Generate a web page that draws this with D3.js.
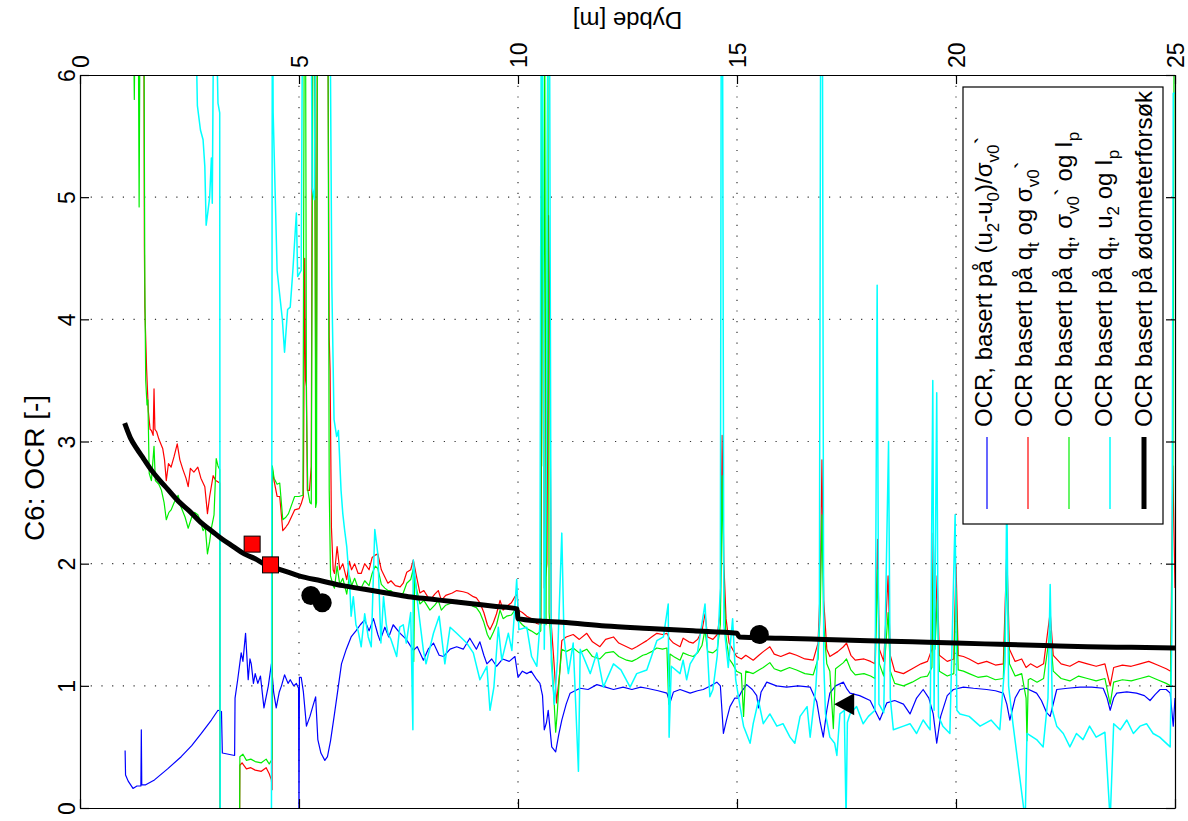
<!DOCTYPE html>
<html>
<head>
<meta charset="utf-8">
<script src="https://cdn.jsdelivr.net/npm/d3@7"></script>
<style>
  body { margin: 0; background: #fff; }
  svg { display: block; }
  text { font-family: "Liberation Sans", Arial, Helvetica, sans-serif; fill: #000; }
</style>
</head>
<body>
<svg id="chart" width="1188" height="821"></svg>
<script>
// ---------------- DATA (depth [m], OCR [-]) ----------------
const depthTicks = [0, 5, 10, 15, 20, 25];
const ocrTicks = [0, 1, 2, 3, 4, 5, 6];
const depthGrid = [5, 10, 15, 20];
const ocrGrid = [1, 2, 3, 4, 5];

// OCR, basert på (u2-u0)/σv0'
const seriesU2 = [[1.03,0.47],[1.04,0.27],[1.1,0.22],[1.21,0.16],[1.3,0.18],[1.39,0.18],[1.40,0.64],[1.41,0.19],[1.5,0.19],[1.7,0.23],[2.0,0.32],[2.31,0.42],[2.55,0.51],[2.77,0.61],[3.0,0.72],[3.15,0.80],[3.23,0.79],[3.25,0.45],[3.53,0.43],[3.54,0.90],[3.6,1.05],[3.68,1.27],[3.72,1.20],[3.78,1.43],[3.84,1.05],[3.88,1.22],[3.91,1.18],[3.96,1.02],[4.0,1.10],[4.06,1.02],[4.12,1.08],[4.2,0.82],[4.3,1.00],[4.37,1.18],[4.42,0.95],[4.48,0.82],[4.55,0.95],[4.6,1.00],[4.67,1.09],[4.75,1.02],[4.8,1.05],[4.88,1.00],[4.94,1.02],[4.99,0.98],[5.0,-0.2],[5.01,1.07],[5.05,1.07],[5.1,0.95],[5.17,0.67],[5.25,0.75],[5.33,0.85],[5.38,0.91],[5.43,0.56],[5.5,0.45],[5.59,0.39],[5.65,0.42],[5.72,0.55],[5.81,0.77],[5.9,1.0],[5.97,1.18],[6.08,1.30],[6.19,1.40],[6.3,1.45],[6.4,1.50],[6.5,1.54],[6.6,1.45],[6.7,1.55],[6.8,1.42],[6.85,1.37],[6.96,1.48],[7.05,1.40],[7.15,1.50],[7.31,1.43],[7.45,1.38],[7.61,1.29],[7.7,1.32],[7.84,1.21],[7.95,1.30],[8.07,1.35],[8.2,1.25],[8.3,1.24],[8.45,1.30],[8.6,1.32],[8.75,1.30],[8.9,1.39],[9.05,1.30],[9.13,1.36],[9.22,1.25],[9.29,1.18],[9.4,1.22],[9.51,1.16],[9.65,1.22],[9.8,1.20],[9.93,1.24],[10.0,1.07],[10.1,1.12],[10.2,1.10],[10.3,1.12],[10.43,1.05],[10.5,1.02],[10.56,0.92],[10.6,0.64],[10.65,0.70],[10.69,0.80],[10.77,0.50],[10.86,0.46],[10.93,0.60],[11.0,0.72],[11.1,0.85],[11.19,0.94],[11.3,0.96],[11.42,0.98],[11.6,0.97],[11.8,1.01],[12.0,0.99],[12.18,0.97],[12.4,0.99],[12.6,0.97],[12.8,0.99],[12.94,0.98],[13.2,0.96],[13.4,0.94],[13.47,0.86],[13.55,0.95],[13.7,0.97],[13.93,0.94],[14.1,0.96],[14.23,0.97],[14.4,1.00],[14.54,1.03],[14.62,1.00],[14.69,0.61],[14.76,0.72],[14.84,0.83],[14.95,0.90],[15.03,0.90],[15.1,0.95],[15.22,1.01],[15.35,0.97],[15.45,0.92],[15.49,0.82],[15.55,0.95],[15.68,1.03],[15.9,1.00],[16.13,0.99],[16.4,1.00],[16.67,0.99],[16.82,0.87],[16.9,0.70],[16.97,0.58],[17.05,0.80],[17.12,0.94],[17.25,1.00],[17.43,1.03],[17.5,0.98],[17.58,0.94],[17.8,0.92],[18.04,0.88],[18.15,0.80],[18.26,0.72],[18.35,0.80],[18.42,0.86],[18.6,0.88],[18.8,0.85],[18.95,0.77],[19.1,0.90],[19.25,0.97],[19.38,0.90],[19.48,0.77],[19.56,0.53],[19.65,0.75],[19.8,0.92],[19.94,0.97],[20.17,0.99],[20.4,0.98],[20.7,0.97],[20.9,0.96],[21.08,0.94],[21.16,0.85],[21.23,0.72],[21.35,0.90],[21.46,0.97],[21.6,0.98],[21.84,0.94],[21.95,0.88],[22.07,0.78],[22.15,0.75],[22.3,0.97],[22.55,0.98],[22.83,0.99],[23.1,0.99],[23.36,0.98],[23.45,0.90],[23.52,0.80],[23.6,0.90],[23.67,0.94],[23.9,0.95],[24.12,0.94],[24.3,0.92],[24.43,0.88],[24.55,0.93],[24.66,0.97],[24.8,0.97],[24.89,0.94],[24.96,0.67],[25.0,0.90]];

// OCR basert på qt og σv0'
const seriesQt = [[1.44,6.5],[1.46,6.2],[1.47,4.6],[1.48,4.1],[1.52,3.6],[1.56,3.25],[1.6,3.1],[1.63,3.09],[1.67,3.05],[1.69,3.43],[1.71,3.1],[1.75,3.08],[1.8,3.02],[1.89,2.94],[1.93,2.85],[1.97,2.68],[2.02,2.82],[2.08,2.79],[2.15,2.88],[2.22,2.98],[2.28,2.85],[2.35,2.77],[2.42,2.70],[2.47,2.63],[2.52,2.78],[2.6,2.75],[2.69,2.79],[2.76,2.70],[2.85,2.63],[2.91,2.41],[2.96,2.55],[3.04,2.72],[3.1,2.68],[3.19,2.66],[3.2,-0.5],[3.64,-0.5],[3.65,0.35],[3.7,0.37],[3.8,0.32],[3.9,0.33],[4.0,0.31],[4.14,0.30],[4.25,0.33],[4.32,0.28],[4.37,0.23],[4.385,0.15],[4.39,2.78],[4.43,2.68],[4.5,2.55],[4.56,2.55],[4.63,2.27],[4.7,2.30],[4.76,2.33],[4.9,2.44],[5.0,2.45],[5.05,2.49],[5.1,2.55],[5.13,4.5],[5.15,3.5],[5.17,3.45],[5.19,2.6],[5.24,2.6],[5.28,2.8],[5.31,6.5],[5.35,6.5],[5.37,4.6],[5.39,2.6],[5.42,6.5],[5.66,6.5],[5.69,3.85],[5.71,3.58],[5.74,2.3],[5.78,1.95],[5.81,1.92],[5.87,2.14],[5.93,1.95],[6.0,2.0],[6.09,1.87],[6.15,2.02],[6.2,1.95],[6.27,2.0],[6.35,1.92],[6.42,1.92],[6.5,2.0],[6.6,1.95],[6.67,2.05],[6.74,2.07],[6.8,2.08],[6.88,1.95],[6.96,1.89],[7.03,1.84],[7.1,1.86],[7.2,1.82],[7.31,1.81],[7.38,1.84],[7.46,1.93],[7.55,1.95],[7.61,2.03],[7.68,1.90],[7.76,1.76],[7.85,1.78],[7.99,1.70],[8.1,1.75],[8.18,1.78],[8.25,1.70],[8.35,1.74],[8.5,1.76],[8.6,1.78],[8.75,1.77],[8.85,1.76],[8.98,1.73],[9.05,1.72],[9.13,1.68],[9.22,1.60],[9.3,1.50],[9.36,1.46],[9.44,1.52],[9.51,1.59],[9.59,1.70],[9.66,1.62],[9.74,1.65],[9.85,1.68],[9.93,1.73],[9.98,1.75],[10.0,1.62],[10.1,1.60],[10.2,1.57],[10.3,1.55],[10.43,1.51],[10.52,1.50],[10.56,5.02],[10.58,4.4],[10.6,1.8],[10.66,2.0],[10.7,4.85],[10.72,4.2],[10.76,1.5],[10.82,1.2],[10.88,0.86],[10.95,1.1],[11.0,1.37],[11.1,1.40],[11.26,1.42],[11.4,1.38],[11.57,1.43],[11.7,1.36],[11.87,1.32],[12.0,1.38],[12.18,1.40],[12.3,1.35],[12.48,1.32],[12.6,1.30],[12.71,1.32],[12.85,1.35],[12.94,1.37],[13.05,1.40],[13.17,1.43],[13.3,1.42],[13.4,1.43],[13.47,1.38],[13.55,1.35],[13.7,1.32],[13.77,1.39],[13.9,1.36],[14.0,1.35],[14.1,1.38],[14.2,1.45],[14.27,1.59],[14.33,1.40],[14.45,1.38],[14.55,1.42],[14.62,1.6],[14.66,3.05],[14.7,2.0],[14.75,1.55],[14.82,1.35],[14.9,1.30],[14.99,1.24],[15.1,1.22],[15.2,1.25],[15.37,1.21],[15.5,1.25],[15.6,1.28],[15.75,1.32],[15.85,1.26],[16.0,1.24],[16.2,1.27],[16.36,1.25],[16.55,1.22],[16.74,1.21],[16.85,1.35],[16.9,1.8],[16.94,2.85],[16.98,1.7],[17.05,1.30],[17.12,1.24],[17.3,1.28],[17.43,1.32],[17.5,1.35],[17.6,1.25],[17.7,1.21],[17.9,1.22],[18.05,1.20],[18.15,1.18],[18.21,2.2],[18.25,1.3],[18.35,1.20],[18.45,1.9],[18.5,1.25],[18.6,1.12],[18.8,1.10],[19.0,1.14],[19.2,1.18],[19.35,1.20],[19.45,1.3],[19.48,2.25],[19.52,1.4],[19.57,1.9],[19.62,1.25],[19.8,1.20],[19.95,1.22],[20.0,2.0],[20.05,1.25],[20.17,1.24],[20.3,1.22],[20.5,1.18],[20.7,1.20],[20.9,1.17],[21.08,1.18],[21.16,2.1],[21.22,1.3],[21.35,1.20],[21.5,1.22],[21.6,1.15],[21.7,1.18],[21.85,1.15],[22.0,1.18],[22.15,1.6],[22.22,1.25],[22.4,1.18],[22.6,1.16],[22.8,1.20],[23.0,1.18],[23.2,1.16],[23.4,1.18],[23.52,1.0],[23.6,1.15],[23.8,1.17],[24.0,1.16],[24.2,1.18],[24.4,1.20],[24.6,1.17],[24.8,1.14],[24.9,1.12],[24.95,2.8],[25.0,1.8]];

// OCR basert på qt, σv0' og Ip
const seriesQtIp = [[1.22,6.5],[1.24,5.8],[1.26,6.5],[1.33,6.5],[1.35,4.92],[1.37,6.5],[1.46,6.5],[1.48,4.3],[1.50,3.5],[1.53,3.3],[1.55,3.34],[1.58,2.74],[1.63,2.68],[1.69,2.96],[1.72,2.68],[1.8,2.65],[1.86,2.60],[1.92,2.50],[1.97,2.36],[2.03,2.42],[2.08,2.44],[2.15,2.50],[2.24,2.56],[2.3,2.47],[2.4,2.38],[2.47,2.29],[2.55,2.38],[2.62,2.42],[2.69,2.40],[2.75,2.35],[2.81,2.27],[2.86,2.30],[2.91,2.08],[2.96,2.18],[3.0,2.29],[3.06,2.40],[3.11,2.86],[3.15,2.80],[3.19,2.77],[3.2,-0.5],[3.64,-0.5],[3.65,0.42],[3.72,0.44],[3.8,0.39],[3.9,0.40],[4.0,0.38],[4.14,0.37],[4.25,0.40],[4.32,0.36],[4.37,0.39],[4.385,0.40],[4.39,2.80],[4.43,2.70],[4.5,2.65],[4.56,2.66],[4.63,2.36],[4.7,2.38],[4.76,2.41],[4.85,2.50],[4.9,2.55],[5.0,2.55],[5.09,2.56],[5.12,6.5],[5.15,6.5],[5.17,3.3],[5.2,2.6],[5.25,2.5],[5.28,2.49],[5.32,6.5],[5.36,6.5],[5.38,2.46],[5.4,2.5],[5.42,6.5],[5.66,6.5],[5.69,2.6],[5.72,1.9],[5.78,1.82],[5.81,1.80],[5.87,1.98],[5.93,1.83],[6.0,1.88],[6.09,1.75],[6.15,1.90],[6.2,1.82],[6.27,1.88],[6.35,1.80],[6.42,1.80],[6.5,1.86],[6.6,1.82],[6.67,1.92],[6.74,1.98],[6.8,1.96],[6.88,1.83],[6.96,1.80],[7.03,1.78],[7.1,1.78],[7.2,1.74],[7.31,1.74],[7.38,1.76],[7.46,1.84],[7.55,1.87],[7.61,1.96],[7.62,1.2],[7.64,1.9],[7.68,1.80],[7.76,1.67],[7.85,1.70],[7.99,1.62],[8.1,1.66],[8.18,1.70],[8.25,1.62],[8.35,1.66],[8.5,1.68],[8.6,1.70],[8.75,1.69],[8.85,1.68],[8.98,1.65],[9.05,1.64],[9.13,1.60],[9.22,1.52],[9.3,1.42],[9.36,1.38],[9.44,1.44],[9.51,1.50],[9.59,1.62],[9.66,1.55],[9.74,1.57],[9.85,1.58],[9.93,1.62],[9.98,1.60],[10.0,1.54],[10.1,1.50],[10.2,1.47],[10.3,1.45],[10.43,1.42],[10.52,1.45],[10.55,6.5],[10.58,2.8],[10.61,6.5],[10.64,1.5],[10.68,6.5],[10.71,1.6],[10.76,1.3],[10.82,0.9],[10.86,0.62],[10.9,0.8],[10.95,1.1],[11.0,1.30],[11.1,1.28],[11.26,1.31],[11.4,1.27],[11.57,1.30],[11.7,1.24],[11.87,1.22],[12.0,1.27],[12.18,1.28],[12.3,1.24],[12.48,1.21],[12.6,1.20],[12.71,1.22],[12.85,1.25],[12.94,1.26],[13.05,1.28],[13.17,1.31],[13.3,1.30],[13.4,1.31],[13.44,0.85],[13.47,1.26],[13.55,1.24],[13.7,1.21],[13.77,1.27],[13.9,1.25],[14.0,1.24],[14.1,1.27],[14.2,1.33],[14.27,1.46],[14.33,1.28],[14.45,1.27],[14.55,1.30],[14.62,1.5],[14.66,2.72],[14.7,1.8],[14.75,1.40],[14.82,1.22],[14.9,1.18],[14.99,1.12],[15.1,1.10],[15.15,0.75],[15.2,1.12],[15.37,1.10],[15.5,1.13],[15.6,1.15],[15.75,1.19],[15.85,1.14],[16.0,1.12],[16.2,1.15],[16.36,1.13],[16.55,1.10],[16.74,1.09],[16.85,1.22],[16.9,1.6],[16.94,2.4],[16.98,1.5],[17.05,1.18],[17.12,1.12],[17.2,0.65],[17.25,1.14],[17.43,1.19],[17.5,1.22],[17.6,1.13],[17.7,1.09],[17.9,1.10],[18.05,1.08],[18.15,1.06],[18.21,1.95],[18.25,1.18],[18.35,1.08],[18.45,1.6],[18.5,1.12],[18.6,1.02],[18.8,1.00],[19.0,1.03],[19.2,1.07],[19.35,1.08],[19.45,1.15],[19.48,2.0],[19.52,1.3],[19.57,1.7],[19.62,1.12],[19.8,1.08],[19.95,1.10],[20.0,1.8],[20.05,1.13],[20.17,1.12],[20.3,1.10],[20.5,1.07],[20.7,1.08],[20.9,1.05],[21.08,1.06],[21.16,1.9],[21.22,1.18],[21.35,1.08],[21.5,1.10],[21.6,0.9],[21.62,0.55],[21.65,1.05],[21.7,1.06],[21.85,1.03],[22.0,1.06],[22.15,1.45],[22.22,1.12],[22.4,1.06],[22.6,1.04],[22.8,1.08],[23.0,1.06],[23.2,1.04],[23.4,1.06],[23.52,0.85],[23.6,1.03],[23.8,1.05],[24.0,1.04],[24.2,1.06],[24.4,1.08],[24.6,1.05],[24.8,1.02],[24.9,1.00],[24.95,2.5],[24.98,6.5],[25.0,6.5]];

// OCR basert på qt, u2 og Ip
const seriesQtU2Ip = [[2.64,6.5],[2.68,5.75],[2.75,5.55],[2.81,5.47],[2.85,5.25],[2.88,4.77],[2.92,4.88],[2.96,5.0],[3.0,5.32],[3.02,4.95],[3.05,6.5],[3.11,6.5],[3.15,5.77],[3.19,5.69],[3.2,-0.5],[4.37,-0.5],[4.39,6.5],[4.40,6.5],[4.41,5.69],[4.5,4.4],[4.62,4.0],[4.67,3.73],[4.74,4.08],[4.8,4.1],[4.86,4.4],[4.94,4.87],[4.97,4.35],[5.05,4.4],[5.08,6.5],[5.28,6.5],[5.3,5.08],[5.35,4.98],[5.38,6.5],[5.71,6.5],[5.75,4.27],[5.8,3.18],[5.86,3.04],[5.9,3.09],[5.96,2.6],[6.0,2.41],[6.04,2.28],[6.09,2.14],[6.16,1.81],[6.19,1.57],[6.24,1.73],[6.3,1.50],[6.35,1.45],[6.42,1.32],[6.5,1.59],[6.58,1.40],[6.65,1.32],[6.73,2.28],[6.8,2.08],[6.87,1.35],[6.93,1.73],[6.99,1.51],[7.03,1.43],[7.1,1.38],[7.23,1.24],[7.3,1.48],[7.38,1.50],[7.45,1.35],[7.55,1.60],[7.6,0.64],[7.61,2.03],[7.7,1.70],[7.84,1.29],[7.9,1.18],[8.07,1.43],[8.2,1.57],[8.33,1.18],[8.45,1.48],[8.6,1.43],[8.83,1.35],[8.98,1.27],[9.13,1.05],[9.29,1.16],[9.36,0.80],[9.45,0.99],[9.55,1.48],[9.63,1.21],[9.78,1.43],[9.86,1.29],[9.97,1.87],[10.02,1.46],[10.2,1.48],[10.31,1.24],[10.43,1.16],[10.5,1.5],[10.53,6.5],[10.56,6.5],[10.6,1.3],[10.65,2.9],[10.68,6.5],[10.72,6.5],[10.76,1.2],[10.83,0.85],[10.9,1.2],[11.0,2.25],[11.05,1.4],[11.15,1.10],[11.26,1.35],[11.38,0.30],[11.42,1.3],[11.49,1.24],[11.65,1.10],[11.8,1.27],[11.95,0.99],[12.18,1.18],[12.35,1.13],[12.56,0.99],[12.71,1.10],[12.94,1.13],[13.17,1.37],[13.32,1.40],[13.43,1.67],[13.45,0.58],[13.5,1.16],[13.7,1.10],[13.77,1.21],[13.85,1.05],[13.93,1.18],[14.1,1.28],[14.27,1.67],[14.38,0.91],[14.45,0.97],[14.55,1.25],[14.62,1.8],[14.64,6.5],[14.67,6.5],[14.7,1.5],[14.8,1.15],[14.9,1.55],[14.97,1.05],[15.07,0.83],[15.15,0.67],[15.3,0.53],[15.37,0.69],[15.49,0.88],[15.6,0.69],[15.75,0.77],[15.91,0.67],[16.05,0.69],[16.21,0.58],[16.32,0.53],[16.44,0.75],[16.6,0.83],[16.67,0.58],[16.8,0.99],[16.88,1.5],[16.91,6.5],[16.95,6.5],[16.98,1.2],[17.02,0.77],[17.12,0.58],[17.23,0.53],[17.28,0.43],[17.35,0.77],[17.45,0.80],[17.49,-0.1],[17.52,0.70],[17.58,0.77],[17.73,0.83],[17.88,0.69],[18.0,0.75],[18.15,0.80],[18.2,4.28],[18.24,0.85],[18.35,0.78],[18.46,3.0],[18.5,0.9],[18.57,0.64],[18.8,0.67],[18.95,0.69],[19.1,0.61],[19.25,0.72],[19.41,0.64],[19.47,3.5],[19.5,0.8],[19.56,3.4],[19.6,0.75],[19.7,0.67],[19.86,0.61],[19.98,2.4],[20.02,0.8],[20.09,0.77],[20.3,0.75],[20.55,0.67],[20.8,0.72],[21.0,0.64],[21.12,1.2],[21.16,2.6],[21.2,1.0],[21.3,0.69],[21.58,-0.1],[21.62,0.61],[21.84,0.56],[21.99,0.50],[22.1,0.9],[22.15,1.83],[22.2,0.8],[22.3,0.67],[22.45,0.61],[22.6,0.50],[22.75,0.61],[22.9,0.56],[23.05,0.67],[23.2,0.58],[23.4,0.62],[23.52,-0.1],[23.6,0.69],[23.75,0.64],[23.9,0.72],[24.05,0.61],[24.2,0.67],[24.35,0.69],[24.5,0.61],[24.65,0.58],[24.89,0.50],[24.93,1.5],[24.96,5.85],[25.0,5.85]];

// OCR basert på ødometerforsøk (fitted line and lab points)
const seriesOed = [[1.02,3.15],[1.15,3.03],[1.3,2.94],[1.45,2.86],[1.6,2.78],[1.8,2.69],[2.0,2.61],[2.25,2.51],[2.5,2.43],[2.75,2.34],[3.0,2.27],[3.25,2.20],[3.5,2.14],[3.75,2.08],[4.0,2.04],[4.25,1.99],[4.5,1.96],[4.75,1.93],[5.0,1.90],[5.5,1.86],[6.0,1.82],[6.5,1.79],[7.0,1.76],[7.5,1.73],[8.0,1.71],[8.5,1.69],[9.0,1.67],[9.5,1.65],[9.98,1.63],[10.0,1.55],[10.5,1.53],[11.0,1.52],[12.0,1.49],[13.0,1.47],[14.0,1.45],[15.0,1.43],[15.05,1.40],[16.0,1.39],[17.0,1.38],[18.0,1.37],[19.0,1.36],[20.0,1.35],[21.0,1.34],[22.0,1.33],[23.0,1.32],[24.0,1.315],[25.0,1.31]];
const labSquares = [[3.93,2.16],[4.35,1.99]];
const labCircles = [[5.27,1.74],[5.53,1.68],[15.51,1.42]];
const labTriangles = [[17.47,0.85]];

const legendLabels = [
  [["OCR, basert på (u",""],["2","sub"],["-u",""],["0","sub"],[")/σ",""],["v0","sub"],["`",""]],
  [["OCR basert på q",""],["t","sub"],[" og σ",""],["v0","sub"],["`",""]],
  [["OCR basert på q",""],["t","sub"],[", σ",""],["v0","sub"],["` og I",""],["p","sub"]],
  [["OCR basert på q",""],["t","sub"],[", u",""],["2","sub"],[" og I",""],["p","sub"]],
  [["OCR basert på ødometerforsøk",""]]
];
const legendColors = ["#0000ff", "#ff0000", "#00ee00", "#00ffff", "#000000"];

// ---------------- DRAWING ----------------
const svg = d3.select("#chart");
const X0 = 80, X1 = 1175, Y0 = 75, Y1 = 808;
const x = d3.scaleLinear().domain([0, 25]).range([X0, X1]);
const y = d3.scaleLinear().domain([0, 6]).range([Y1, Y0]);

svg.append("defs").append("clipPath").attr("id", "plotclip")
  .append("rect").attr("x", X0).attr("y", Y0).attr("width", X1 - X0).attr("height", Y1 - Y0);

// grid
const grid = svg.append("g").attr("stroke", "#333").attr("stroke-width", 1.2).attr("stroke-dasharray", "1.2,9.5");
grid.selectAll("line.v").data(depthGrid).join("line").attr("class", "v")
  .attr("x1", d => x(d)).attr("x2", d => x(d)).attr("y1", Y0).attr("y2", Y1);
grid.selectAll("line.h").data(ocrGrid).join("line").attr("class", "h")
  .attr("x1", X0).attr("x2", X1).attr("y1", d => y(d)).attr("y2", d => y(d));

// data lines
const line = d3.line().x(d => x(d[0])).y(d => y(d[1]));
const smoothLine = d3.line().x(d => x(d[0])).y(d => y(d[1])).curve(d3.curveMonotoneX);
const plot = svg.append("g").attr("clip-path", "url(#plotclip)");
const series = [
  { data: seriesU2, color: legendColors[0], w: 1.2, gen: line },
  { data: seriesQt, color: legendColors[1], w: 1.2, gen: line },
  { data: seriesQtIp, color: legendColors[2], w: 1.2, gen: line },
  { data: seriesQtU2Ip, color: legendColors[3], w: 1.5, gen: line },
  { data: seriesOed, color: legendColors[4], w: 5, gen: smoothLine }
];
series.forEach(s => {
  plot.append("path").datum(s.data).attr("d", s.gen)
    .attr("fill", "none").attr("stroke", s.color).attr("stroke-width", s.w)
    .attr("stroke-linejoin", "round");
});

// markers
plot.selectAll("rect.sq").data(labSquares).join("rect").attr("class", "sq")
  .attr("x", d => x(d[0]) - 8).attr("y", d => y(d[1]) - 8)
  .attr("width", 16).attr("height", 16)
  .attr("fill", "#ff0000").attr("stroke", "#000").attr("stroke-width", 1);
plot.selectAll("circle.ci").data(labCircles).join("circle").attr("class", "ci")
  .attr("cx", d => x(d[0])).attr("cy", d => y(d[1])).attr("r", 9.5).attr("fill", "#000");
plot.selectAll("path.tri").data(labTriangles).join("path").attr("class", "tri")
  .attr("d", d => {
    const cx = x(d[0]), cy = y(d[1]);
    return `M${cx - 11},${cy} L${cx + 9},${cy - 11} L${cx + 9},${cy + 11} Z`;
  }).attr("fill", "#000");

// axes (ticks inward)
function styleAxis(g) {
  g.selectAll(".domain").attr("stroke", "#000").attr("stroke-width", 1.2);
  g.selectAll(".tick line").attr("stroke", "#000").attr("stroke-width", 1.2);
  g.attr("font-family", null).attr("font-size", null);
}
const axTop = svg.append("g").attr("transform", `translate(0,${Y0})`)
  .call(d3.axisTop(x).tickValues(depthTicks).tickSize(-9).tickSizeOuter(0).tickFormat(d3.format("d")));
styleAxis(axTop);
axTop.selectAll(".tick text")
  .attr("transform", "rotate(-90)").attr("x", 7).attr("y", 8.5).attr("dy", null)
  .attr("text-anchor", "start").style("font-size", "23px");

const axBottom = svg.append("g").attr("transform", `translate(0,${Y1})`)
  .call(d3.axisBottom(x).tickValues(depthTicks).tickSize(-9).tickSizeOuter(0).tickFormat(""));
styleAxis(axBottom);

const axLeft = svg.append("g").attr("transform", `translate(${X0},0)`)
  .call(d3.axisLeft(y).tickValues(ocrTicks).tickSize(-9).tickSizeOuter(0).tickFormat(d3.format("d")));
styleAxis(axLeft);
axLeft.selectAll(".tick text")
  .attr("transform", "rotate(-90)").attr("x", 0).attr("y", -5).attr("dy", null)
  .attr("text-anchor", "middle").style("font-size", "23px");

const axRight = svg.append("g").attr("transform", `translate(${X1},0)`)
  .call(d3.axisRight(y).tickValues(ocrTicks).tickSize(-9).tickSizeOuter(0).tickFormat(""));
styleAxis(axRight);

// axis titles
svg.append("text").attr("transform", `translate(${(X0 + X1) / 2},12) rotate(180)`)
  .attr("text-anchor", "middle").style("font-size", "24px").text("Dybde [m]");
svg.append("text").attr("transform", `translate(44,468) rotate(-90)`)
  .attr("text-anchor", "middle").style("font-size", "28px").text("C6: OCR [-]");

// legend
const lg = svg.append("g");
lg.append("rect").attr("x", 963).attr("y", 87).attr("width", 200).attr("height", 437)
  .attr("fill", "#fff").attr("stroke", "#000").attr("stroke-width", 1.2);
const lineX = [987, 1028, 1069, 1110, 1144];
const baseX = [992, 1032, 1072, 1112, 1152];
const lineW = [1.2, 1.2, 1.2, 1.5, 5];
legendLabels.forEach((parts, i) => {
  lg.append("line").attr("x1", lineX[i]).attr("x2", lineX[i]).attr("y1", 437).attr("y2", 509)
    .attr("stroke", legendColors[i]).attr("stroke-width", lineW[i]);
  const t = lg.append("text").attr("transform", `translate(${baseX[i]},427) rotate(-90)`)
    .attr("text-anchor", "start").style("font-size", "24px");
  let shift = 0;
  parts.forEach(([str, type]) => {
    const target = type === "sub" ? 7 : 0;
    const ts = t.append("tspan").text(str);
    if (target !== shift) ts.attr("dy", target - shift);
    if (type === "sub") ts.style("font-size", "17px");
    shift = target;
  });
});
</script>
</body>
</html>
